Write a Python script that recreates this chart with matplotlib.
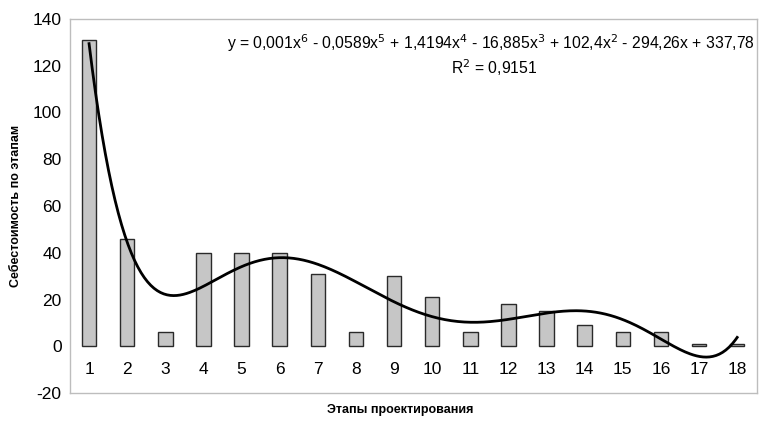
import numpy as np
import matplotlib.pyplot as plt

plt.rcParams['font.family'] = ['Liberation Sans', 'DejaVu Sans']
plt.rcParams['axes.unicode_minus'] = False

# Этапы и себестоимость
etapy = list(range(1, 19))
stoimost = [131, 46, 6, 40, 40, 40, 31, 6, 30, 21, 6, 18, 15, 9, 6, 6, 1, 1]

# Полиномиальный тренд 6-й степени (как в Excel)
coef = np.polyfit(etapy, stoimost, 6)
xs = np.linspace(1, 18, 400)
ys = np.polyval(coef, xs)

fig = plt.figure(figsize=(7.63, 4.29), dpi=100)
ax = fig.add_axes([70/763, 36/429, 687/763, 374/429])

ax.bar(etapy, stoimost, width=0.38, color='#c6c6c6', edgecolor='#2a2a2a', linewidth=1.0, zorder=2)
ax.plot(xs, ys, color='black', linewidth=2.0, zorder=3)

ax.set_xlim(0.5, 18.52)
ax.set_ylim(-20, 140)
ax.set_yticks(range(-20, 141, 20))
ax.tick_params(axis='y', length=0, labelsize=12.5, pad=6)
ax.set_xticks([])
for e in etapy:
    ax.text(e, -10, str(e), ha='center', va='center', fontsize=12.5)

for s in ax.spines.values():
    s.set_color('#bdbdbd')
    s.set_linewidth(1.0)

ax.set_ylabel('Себестоимость по этапам', fontsize=9, fontweight='bold', labelpad=8)
fig.text(0.525, 0.045, 'Этапы проектирования', ha='center', va='center', fontsize=9, fontweight='bold')

ax.text(0.613, 0.935,
        r'y = 0,001x$^6$ - 0,0589x$^5$ + 1,4194x$^4$ - 16,885x$^3$ + 102,4x$^2$ - 294,26x + 337,78',
        transform=ax.transAxes, ha='center', va='center', fontsize=11.3)
ax.text(0.617, 0.87, r'R$^2$ = 0,9151', transform=ax.transAxes, ha='center', va='center', fontsize=11.3)

fig.savefig('out.png', dpi=100)
